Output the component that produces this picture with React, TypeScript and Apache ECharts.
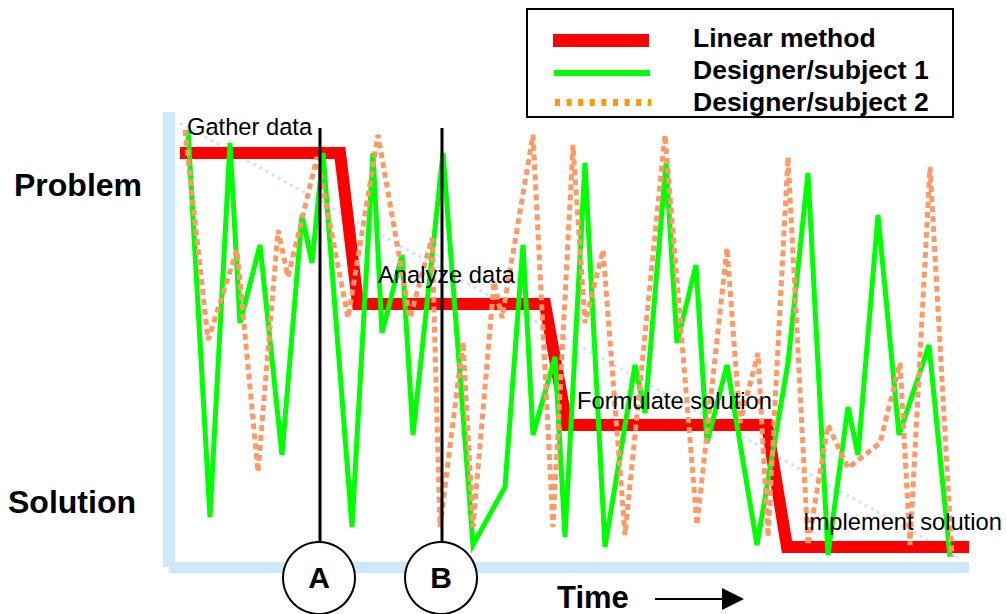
import React, { useEffect, useRef } from "react";
import * as echarts from "echarts";

// Time (x) and level (y: 0 = solution end, 455 = problem end) readings
const linearMethod: [number, number][] = [
  [11, 414], [171, 414], [189, 263], [376, 263], [398, 142], [598, 142], [618, 20], [800, 20],
];
const designer1: [number, number][] = [
  [19, 437], [41, 50], [61, 424], [71, 244], [91, 322], [113, 112], [133, 352], [143, 304],
  [154, 414], [183, 40], [204, 414], [213, 234], [233, 312], [244, 132], [274, 414], [304, 22],
  [336, 80], [354, 322], [364, 132], [386, 210], [396, 30], [416, 404], [436, 20], [466, 202],
  [476, 154], [497, 404], [508, 224], [527, 302], [538, 124], [558, 202], [588, 22], [619, 204],
  [639, 394], [659, 12], [679, 160], [689, 112], [709, 352], [730, 132], [760, 222], [781, 10],
];
const designer2: [number, number][] = [
  [16, 437], [39, 227], [68, 317], [89, 95], [109, 337], [119, 290], [148, 410], [179, 249],
  [209, 432], [241, 249], [263, 329], [271, 40], [294, 225], [304, 40], [325, 285], [333, 249],
  [364, 432], [384, 40], [404, 422], [416, 244], [434, 317], [456, 32], [496, 432], [528, 42],
  [558, 319], [571, 144], [589, 214], [599, 30], [619, 410], [639, 22], [659, 142], [679, 99],
  [711, 124], [731, 204], [741, 22], [761, 400], [783, 10],
];
const trendLine: [number, number][] = [[11, 444], [789, 10]];
const markerTimes = [151, 273];
const markerNames = ["A", "B"];
const markerTop = 439;
const markerBottom = 24;
const stageNames = ["Gather data", "Analyze data", "Formulate solution", "Implement solution"];
const levelNames = ["Problem", "Solution"];
const seriesNames = ["Linear method", "Designer/subject 1", "Designer/subject 2"];
const axisTitle = "Time";

const FONT = "'Liberation Sans', Arial, Helvetica, sans-serif";

export default function App() {
  const ref = useRef<HTMLDivElement>(null);
  useEffect(() => {
    if (!ref.current) return;
    const chart = echarts.init(ref.current, null, { renderer: "svg" });
    const axisBlue = "#cce9fb";
    const noEm = { disabled: true };
    const markerSeries = markerTimes.map((t, i) => ({
      name: "marker " + markerNames[i],
      type: "line",
      data: [[t, markerTop], [t, markerBottom]],
      symbol: "none",
      lineStyle: { color: "#000", width: 3 },
      z: 6,
      silent: true,
      emphasis: noEm,
    }));
    chart.setOption({
      animation: false,
      grid: { left: 169, right: 37, top: 112, bottom: 47 },
      xAxis: {
        type: "value", min: 0, max: 800,
        axisLine: { show: true, lineStyle: { color: axisBlue, width: 11, cap: "butt" } },
        axisTick: { show: false }, axisLabel: { show: false }, splitLine: { show: false },
      },
      yAxis: {
        type: "value", min: 0, max: 455,
        axisLine: { show: true, lineStyle: { color: axisBlue, width: 12, cap: "butt" } },
        axisTick: { show: false }, axisLabel: { show: false }, splitLine: { show: false },
      },
      series: [
        {
          name: "trend", type: "line", data: trendLine, symbol: "none",
          lineStyle: { color: "#cce8f8", width: 3, type: [3, 4] }, z: 1, silent: true, emphasis: noEm,
        },
        {
          name: seriesNames[0], type: "line", data: linearMethod, symbol: "none",
          lineStyle: { color: "#ff0000", width: 12, join: "miter", cap: "butt" }, z: 2, silent: true, emphasis: noEm,
        },
        {
          name: seriesNames[1], type: "line", data: designer1, symbol: "none",
          lineStyle: { color: "#00ff00", width: 5, join: "miter" }, z: 3, silent: true, emphasis: noEm,
        },
        {
          name: seriesNames[2], type: "line", data: designer2, symbol: "none",
          lineStyle: { color: "#ff9966", width: 5, type: [6, 4], join: "miter" }, z: 4, silent: true, emphasis: noEm,
        },
        ...markerSeries,
      ],
    });

    const circles: any[] = [];
    markerTimes.forEach((t, i) => {
      const p = chart.convertToPixel({ gridIndex: 0 }, [t, 0]) as number[];
      const cx = p[0] - 1;
      circles.push({
        type: "circle", shape: { cx, cy: 578, r: 36 }, z: 20,
        style: { fill: "#fff", stroke: "#000", lineWidth: 2 },
      });
      circles.push({
        type: "text", z: 21,
        style: { text: markerNames[i], x: cx, y: 577, font: `bold 30px ${FONT}`, fill: "#000", textAlign: "center", textVerticalAlign: "middle" },
      });
    });

    const txt = (text: string, x: number, y: number, size: number, bold: boolean) => ({
      type: "text", z: 30,
      style: { text, x, y, font: `${bold ? "bold " : ""}${size}px ${FONT}`, fill: "#000", textAlign: "left", textVerticalAlign: "middle" },
    });

    const stagePos = [[187, 127], [378, 275], [577, 401], [803, 522]];

    chart.setOption({
      graphic: [
        ...circles,
        ...stageNames.map((s, i) => txt(s, stagePos[i][0], stagePos[i][1], 23.7, false)),
        txt(levelNames[0], 14, 185, 32, true),
        txt(levelNames[1], 8, 502, 32, true),
        txt(axisTitle, 557, 597, 31, true),
        { type: "line", z: 30, shape: { x1: 655, y1: 599, x2: 724, y2: 599 }, style: { stroke: "#000", lineWidth: 2 } },
        { type: "polygon", z: 30, shape: { points: [[722, 588], [744, 599], [722, 610]] }, style: { fill: "#000" } },
        // legend
        { type: "rect", z: 30, shape: { x: 527, y: 9, width: 426, height: 108 }, style: { fill: "#fff", stroke: "#000", lineWidth: 2 } },
        { type: "rect", z: 31, shape: { x: 553, y: 34, width: 96, height: 13 }, style: { fill: "#ff0000" } },
        { type: "rect", z: 31, shape: { x: 554, y: 70, width: 96, height: 6 }, style: { fill: "#00ff00" } },
        { type: "line", z: 31, shape: { x1: 555, y1: 102.5, x2: 651, y2: 102.5 }, style: { stroke: "#ff9900", lineWidth: 7, lineDash: [5, 6.6] } },
        txt(seriesNames[0], 693, 38, 26.5, true),
        txt(seriesNames[1], 693, 70, 26.5, true),
        txt(seriesNames[2], 693, 102, 26.5, true),
      ],
    });
    return () => chart.dispose();
  }, []);
  return (
    <div ref={ref} style={{ position: "fixed", left: 0, top: 0, width: 1006, height: 614, background: "#fff" }} />
  );
}
